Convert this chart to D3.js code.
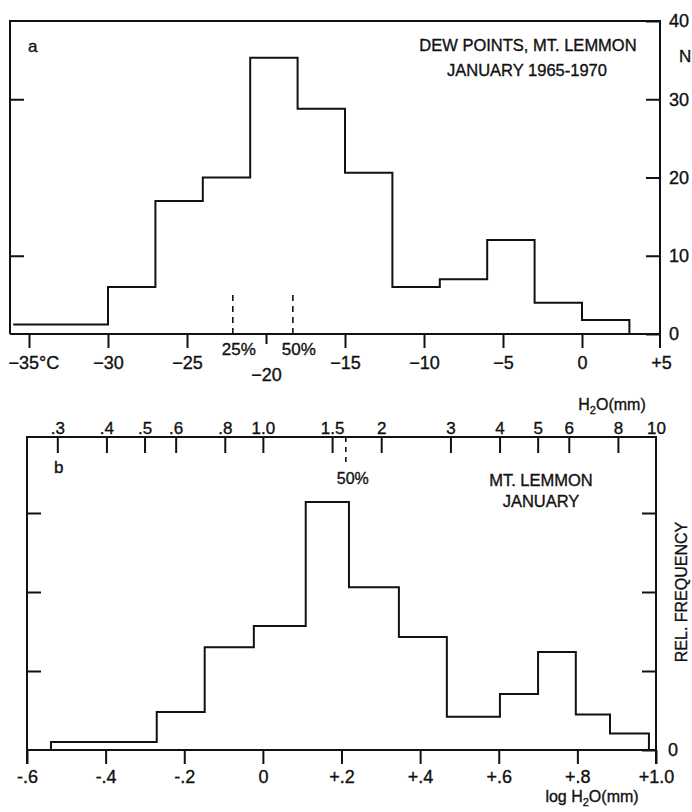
<!DOCTYPE html>
<html>
<head>
<meta charset="utf-8">
<script src="https://cdn.jsdelivr.net/npm/d3@7"></script>
<style>
  body { margin: 0; background: #fff; }
  svg { display: block; }
  text { font-family: "Liberation Sans", "DejaVu Sans", sans-serif; fill: #111; stroke: #111; stroke-width: 0.35; }
  .axis path.domain { display: none; }
  .axis line { stroke: #111; stroke-width: 2; }
  .axis text { font-size: 18px; }
  .top text { font-size: 17px; }
</style>
</head>
<body>
<div id="chart"></div>
<script>
// panel a: dew points (deg C), counts per 3-degree bin
const dewEdges = [-36, -30, -27, -24, -21, -18, -15, -12, -9, -6, -3, 0, 3];
const dewCounts = [1.2, 6, 17, 20, 35.3, 28.8, 20.6, 6, 7, 12, 4, 1.8];
const dewTicks = [-35, -30, -25, -20, -15, -10, -5, 0, 5];
const dewTickLabels = ["\u221235\u00b0C", "\u221230", "\u221225", "\u221220", "\u221215", "\u221210", "\u22125", "0", "+5"];
const dewCountTicks = [0, 10, 20, 30, 40];
const dewPct = ["25%", "50%"];
const dewPctValues = [-22.1, -18.3];

// panel b: log precipitable water (mm), relative frequency
const wvEdges = [-0.539, -0.270, -0.148, -0.023, 0.109, 0.219, 0.346, 0.468, 0.603, 0.700, 0.796, 0.883, 0.982];
const wvFreq = [0.1, 0.48, 1.3, 1.57, 3.14, 2.06, 1.43, 0.42, 0.71, 1.24, 0.45, 0.21];
const logTicks = [-0.6, -0.4, -0.2, 0, 0.2, 0.4, 0.6, 0.8, 1.0];
const logTickLabels = ["-.6", "-.4", "-.2", "0", "+.2", "+.4", "+.6", "+.8", "+1.0"];
const mmTicks = [0.3, 0.4, 0.5, 0.6, 0.8, 1.0, 1.5, 2, 3, 4, 5, 6, 8, 10];
const mmTickLabels = [".3", ".4", ".5", ".6", ".8", "1.0", "1.5", "2", "3", "4", "5", "6", "8", "10"];
const wvMedian = 0.211;

const svg = d3.select("#chart").append("svg")
  .attr("width", 692)
  .attr("height", 812);

const ink = "#111";

// builds the outline of a histogram from bin edges and heights
function stepPoints(edges, vals, x, y, dropLeft) {
  const pts = [];
  if (dropLeft) pts.push([x(edges[0]), y(0)]);
  vals.forEach((v, i) => {
    pts.push([x(edges[i]), y(v)]);
    pts.push([x(edges[i + 1]), y(v)]);
  });
  pts.push([x(edges[edges.length - 1]), y(0)]);
  return pts;
}

// ---------- panel a ----------
const xA = d3.scaleLinear().domain([-35, 5]).range([29, 661]);
const yA = d3.scaleLinear().domain([0, 40]).range([334, 21]);
const aLeft = 10, aRight = 660;

const gA = svg.append("g");

// frame
gA.append("path")
  .attr("d", `M${aLeft},${yA(0)}V${yA(40)}H${aRight}V${yA(0) + 14}M${aLeft},${yA(0)}H${aRight}`)
  .attr("fill", "none").attr("stroke", ink).attr("stroke-width", 2);

gA.append("path")
  .attr("d", d3.line()(stepPoints(dewEdges, dewCounts, xA, yA, false)))
  .attr("fill", "none").attr("stroke", ink).attr("stroke-width", 2);

// bottom axis
const axA = gA.append("g").attr("class", "axis")
  .attr("transform", `translate(0,${yA(0)})`)
  .call(d3.axisBottom(xA).tickValues(dewTicks).tickSize(14).tickPadding(8)
    .tickFormat((d, i) => dewTickLabels[i]));
axA.selectAll(".tick").filter(d => d === -20).select("line").attr("y2", 10);
axA.selectAll(".tick").filter(d => d === -20).select("text").attr("y", 34);
axA.selectAll(".tick").filter(d => d === -35).select("text").attr("text-anchor", "start").attr("x", -21);
axA.selectAll(".tick").filter(d => d === 5).select("line").remove();

// right axis
gA.append("g").attr("class", "axis")
  .attr("transform", `translate(${aRight},0)`)
  .call(d3.axisRight(yA).tickValues(dewCountTicks).tickSize(-14).tickPadding(9));

// left ticks
gA.append("g").attr("class", "axis")
  .attr("transform", `translate(${aLeft},0)`)
  .call(d3.axisLeft(yA).tickValues([10, 30]).tickSize(-14).tickFormat(""));

gA.append("text").attr("x", 679).attr("y", 62).attr("font-size", 17).text("N");

// quartile marks
dewPctValues.forEach((v, i) => {
  gA.append("line")
    .attr("x1", xA(v)).attr("x2", xA(v))
    .attr("y1", yA(0)).attr("y2", yA(5.6))
    .attr("stroke", ink).attr("stroke-width", 1.6).attr("stroke-dasharray", "6,5");
  gA.append("text")
    .attr("x", xA(v) + 6).attr("y", yA(0) + 21)
    .attr("text-anchor", "middle").attr("font-size", 17)
    .text(dewPct[i]);
});

gA.append("text").attr("x", 28).attr("y", 52).attr("font-size", 17).text("a");
gA.append("text").attr("x", 528).attr("y", 51).attr("text-anchor", "middle")
  .attr("font-size", 16.5).text("DEW POINTS, MT. LEMMON");
gA.append("text").attr("x", 527).attr("y", 76).attr("text-anchor", "middle")
  .attr("font-size", 16.5).text("JANUARY 1965-1970");

// ---------- panel b ----------
const xB = d3.scaleLinear().domain([-0.6, 1.0]).range([27, 656]);
const xMm = d3.scaleLog().domain([Math.pow(10, -0.6), 10]).range([27, 656]);
const yB = d3.scaleLinear().domain([0, 4]).range([750, 434]);
const bTop = 437;

const gB = svg.append("g");

gB.append("path")
  .attr("d", `M${xB(-0.6)},${yB(0) + 14}V${bTop}H${xB(1)}V${yB(0) + 14}M${xB(-0.6)},${yB(0)}H${xB(1)}`)
  .attr("fill", "none").attr("stroke", ink).attr("stroke-width", 2);

gB.append("path")
  .attr("d", d3.line()(stepPoints(wvEdges, wvFreq, xB, yB, true)))
  .attr("fill", "none").attr("stroke", ink).attr("stroke-width", 2);

gB.append("g").attr("class", "axis")
  .attr("transform", `translate(0,${yB(0)})`)
  .call(d3.axisBottom(xB).tickValues(logTicks).tickSize(14).tickPadding(6)
    .tickFormat((d, i) => logTickLabels[i]));

gB.append("g").attr("class", "axis top")
  .attr("transform", `translate(0,${bTop})`)
  .call(d3.axisTop(xMm).tickValues(mmTicks).tickSize(-16).tickPadding(3)
    .tickFormat((d, i) => mmTickLabels[i]))
  .selectAll(".tick").filter(d => d === 10).select("line").remove();

gB.append("g").attr("class", "axis")
  .attr("transform", `translate(${xB(1)},0)`)
  .call(d3.axisRight(yB).tickValues([0, 1, 2, 3]).tickSize(-14).tickPadding(12)
    .tickFormat(d => d === 0 ? "0" : ""));

gB.append("g").attr("class", "axis")
  .attr("transform", `translate(${xB(-0.6)},0)`)
  .call(d3.axisLeft(yB).tickValues([1, 2, 3]).tickSize(-14).tickFormat(""));

// median
gB.append("line")
  .attr("x1", xB(wvMedian)).attr("x2", xB(wvMedian))
  .attr("y1", bTop).attr("y2", yB(3.6))
  .attr("stroke", ink).attr("stroke-width", 1.6).attr("stroke-dasharray", "5,5");
gB.append("text").attr("x", xB(wvMedian) + 7).attr("y", 484)
  .attr("text-anchor", "middle").attr("font-size", 16).text("50%");

gB.append("text").attr("x", 54).attr("y", 473).attr("font-size", 17).text("b");
gB.append("text").attr("x", 541).attr("y", 486).attr("text-anchor", "middle")
  .attr("font-size", 16.5).text("MT. LEMMON");
gB.append("text").attr("x", 541).attr("y", 507).attr("text-anchor", "middle")
  .attr("font-size", 16.5).text("JANUARY");

gB.append("text")
  .attr("transform", "translate(687,592) rotate(-90)")
  .attr("text-anchor", "middle").attr("font-size", 16).text("REL. FREQUENCY");

const h2o = gB.append("text").attr("x", 612).attr("y", 410)
  .attr("text-anchor", "middle").attr("font-size", 16);
h2o.append("tspan").text("H");
h2o.append("tspan").attr("dy", 4).attr("font-size", 11).text("2");
h2o.append("tspan").attr("dy", -4).text("O(mm)");

const logLab = gB.append("text").attr("x", 592).attr("y", 802)
  .attr("text-anchor", "middle").attr("font-size", 16);
logLab.append("tspan").text("log H");
logLab.append("tspan").attr("dy", 4).attr("font-size", 11).text("2");
logLab.append("tspan").attr("dy", -4).text("O(mm)");
</script>
</body>
</html>
